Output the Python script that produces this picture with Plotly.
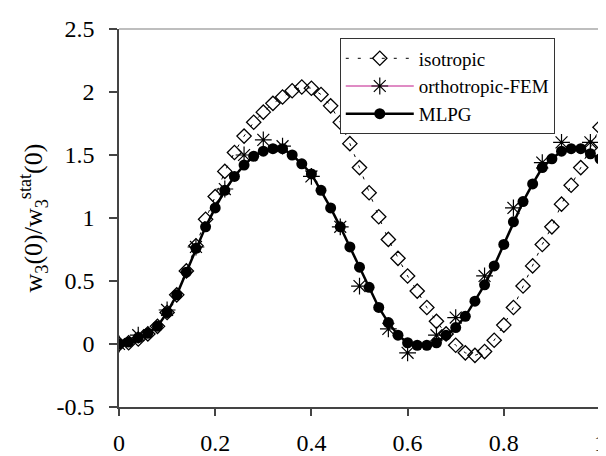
import plotly.graph_objects as go

# ---- data ----
x_grid = [round(0.02 * i, 2) for i in range(51)]

isotropic = [0.00, 0.01, 0.04, 0.08, 0.14, 0.25, 0.39, 0.58, 0.78, 0.99,
             1.17, 1.37, 1.52, 1.65, 1.76, 1.84, 1.91, 1.96, 2.01, 2.04,
             2.03, 1.98, 1.89, 1.76, 1.59, 1.40, 1.20, 1.01, 0.83, 0.68,
             0.54, 0.42, 0.29, 0.18, 0.08, -0.01, -0.07, -0.09, -0.06, 0.03,
             0.15, 0.29, 0.46, 0.62, 0.79, 0.93, 1.11, 1.26, 1.40, 1.56,
             1.72]

mlpg = [0.00, 0.015, 0.05, 0.085, 0.14, 0.25, 0.39, 0.57, 0.76, 0.93,
        1.08, 1.22, 1.33, 1.42, 1.49, 1.53, 1.55, 1.55, 1.50, 1.43,
        1.35, 1.22, 1.08, 0.93, 0.77, 0.61, 0.45, 0.29, 0.17, 0.07,
        0.01, -0.01, -0.01, 0.01, 0.07, 0.13, 0.22, 0.34, 0.47, 0.62,
        0.79, 0.97, 1.13, 1.27, 1.40, 1.47, 1.53, 1.55, 1.55, 1.51,
        1.47]

ortho_x = [0.00, 0.04, 0.10, 0.16, 0.22, 0.26, 0.30, 0.34, 0.40, 0.46,
           0.50, 0.56, 0.60, 0.66, 0.70, 0.76, 0.82, 0.88, 0.92, 0.98]
ortho_y = [0.00, 0.07, 0.27, 0.77, 1.23, 1.50, 1.62, 1.57, 1.33, 0.93,
           0.46, 0.12, -0.07, 0.07, 0.21, 0.54, 1.08, 1.44, 1.60, 1.60]

x_ticks = [0, 0.2, 0.4, 0.6, 0.8, 1]
x_tick_labels = ["0", "0.2", "0.4", "0.6", "0.8", "1"]
y_ticks = [-0.5, 0, 0.5, 1, 1.5, 2, 2.5]
y_tick_labels = ["-0.5", "0", "0.5", "1", "1.5", "2", "2.5"]

FONT = "Liberation Serif, Times New Roman, serif"

fig = go.Figure()

fig.add_trace(go.Scatter(
    x=x_grid, y=isotropic, name="isotropic", mode="lines+markers",
    line=dict(color="black", width=1, dash="3px,9px"),
    marker=dict(symbol="diamond-open", size=11, color="black",
                line=dict(width=1.3, color="black")),
    legendrank=1,
))

fig.add_trace(go.Scatter(
    x=x_grid, y=mlpg, name="MLPG", mode="lines+markers",
    line=dict(color="black", width=2.5),
    marker=dict(symbol="circle", size=11, color="black"),
    legendrank=3,
))

fig.add_trace(go.Scatter(
    x=ortho_x, y=ortho_y, name="orthotropic-FEM", mode="markers",
    marker=dict(symbol="asterisk-open", size=14, color="black",
                line=dict(width=1.2, color="black")),
    showlegend=False,
))

# legend entry for the orthotropic series (thin magenta line + star)
fig.add_trace(go.Scatter(
    x=[None], y=[None], name="orthotropic-FEM", mode="lines+markers",
    line=dict(color="#c0188a", width=1),
    marker=dict(symbol="asterisk-open", size=14, color="black",
                line=dict(width=1.2, color="black")),
    legendrank=2,
))

fig.update_layout(
    width=606, height=456,
    margin=dict(l=111, r=8, t=20, b=47),
    paper_bgcolor="white", plot_bgcolor="white",
    font=dict(family=FONT, color="black"),
    showlegend=True,
    legend=dict(
        x=0.459, y=0.975, xanchor="left", yanchor="top",
        bgcolor="white", bordercolor="#333333", borderwidth=1,
        font=dict(family=FONT, size=19, color="black"),
        itemwidth=68, tracegroupgap=0,
    ),
    xaxis=dict(
        range=[0, 1], tickvals=x_ticks, ticktext=x_tick_labels,
        showgrid=False, zeroline=False,
        showline=True, linecolor="#444444", linewidth=1.5,
        ticks="outside", ticklen=7, tickcolor="#444444", tickwidth=1.5,
        tickfont=dict(family=FONT, size=24, color="black"),
        ticklabelstandoff=6, ticklabeloverflow="allow",
    ),
    yaxis=dict(
        range=[-0.5, 2.5], tickvals=y_ticks, ticktext=y_tick_labels,
        showgrid=False, zeroline=False,
        showline=True, linecolor="#444444", linewidth=1.5,
        ticks="outside", ticklen=8, tickcolor="#444444", tickwidth=1.5,
        tickfont=dict(family=FONT, size=24, color="black"),
        ticklabelstandoff=10,
        title=dict(text="w<sub>3</sub>(0)/w<sub>3</sub><sup>stat</sup>(0)",
                   font=dict(family=FONT, size=26, color="black"),
                   standoff=6),
    ),
    shapes=[
        dict(type="line", xref="paper", yref="paper", x0=0, x1=1, y0=1, y1=1,
             line=dict(color="#a8a8a8", width=1.5)),
        dict(type="line", xref="paper", yref="paper", x0=1, x1=1, y0=0, y1=1,
             line=dict(color="#a8a8a8", width=1.5)),
    ],
)

fig.write_html("out.html")
